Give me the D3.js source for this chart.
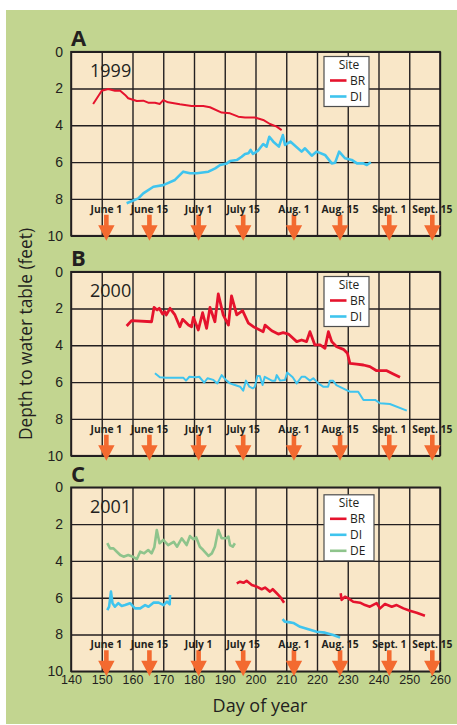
<!DOCTYPE html>
<html>
<head>
<meta charset="utf-8">
<script src="https://cdn.jsdelivr.net/npm/d3@7"></script>
<style>
  body { margin: 0; background: #fff; }
  svg { display: block; font-family: "Open Sans", "Noto Sans", sans-serif; }
</style>
</head>
<body>
<div id="chart"></div>
<script>
// panels and labels
const panelNames = ["A", "B", "C"];
const years = ["1999", "2000", "2001"];
const depthTicks = [0, 2, 4, 6, 8, 10];
const dayTicks = [140, 150, 160, 170, 180, 190, 200, 210, 220, 230, 240, 250, 260];
const monthLabels = ["June 1", "June 15", "July 1", "July 15", "Aug. 1", "Aug. 15", "Sept. 1", "Sept. 15"];
const monthDays = [151.5, 165.5, 181.5, 196, 212.5, 227.5, 243.5, 257.5];

// [day of year, depth in feet]
const br1999 = [[147.2,2.84],[150,2.12],[152.1,2.03],[154.3,2.12],[156,2.12],[157.6,2.35],[158.6,2.53],[161.4,2.68],[163.5,2.66],[165.1,2.77],[167.3,2.77],[168.9,2.84],[170,2.63],[171.6,2.75],[175.4,2.86],[179.2,2.95],[183,2.95],[185.2,3.02],[189,3.31],[191.7,3.35],[194.4,3.53],[196.6,3.57],[199.8,3.58],[202.5,3.71],[204.7,3.93],[206.9,4.07],[208.5,4.26]];
const di1999 = [[158.1,8.24],[161.9,7.97],[163.5,7.7],[166.8,7.34],[170,7.25],[173.8,6.97],[176.5,6.52],[178.7,6.61],[180.9,6.61],[184.7,6.52],[186.9,6.34],[188.5,6.16],[190.7,6.07],[191.7,5.94],[193.9,5.89],[195.5,5.71],[196.6,5.56],[197.7,5.52],[198.4,5.34],[199.2,5.56],[200.8,5.38],[202.5,5.02],[203.6,5.16],[204.5,4.62],[205.8,4.89],[207.6,5.16],[208.9,4.53],[209.6,5.07],[211.4,4.89],[215,5.43],[216.1,5.25],[218.3,5.65],[219.9,5.43],[222.6,5.61],[224.8,6.07],[225.9,6.03],[227.2,5.43],[229.1,5.79],[231.3,5.88],[233,6.07],[235.1,6.07],[236.2,6.16],[237.5,6.01]];
const br2000 = [[158.1,2.95],[159.7,2.66],[166.2,2.72],[167,1.94],[168,2.08],[168.7,1.99],[169.8,2.3],[170.5,2.17],[171,2.35],[172.2,1.99],[173.8,2.35],[175.4,2.99],[176.3,2.59],[178.2,2.9],[179.2,2.99],[179.8,2.48],[181.4,3.17],[182.8,2.23],[184.1,3.08],[185.2,1.94],[186.8,2.72],[187.9,1.21],[189.5,2.35],[191.2,2.9],[192.2,1.32],[193.9,2.35],[195.8,2.12],[197.7,2.8],[199.3,2.99],[202.5,3.26],[203.1,2.9],[205.3,3.21],[207.4,3.39],[209,3.31],[210.7,3.39],[213.4,3.8],[215,3.71],[216.6,3.8],[217.7,3.26],[219.3,3.98],[221,3.98],[222.6,4.16],[223.7,3.26],[224.8,3.8],[226.4,4.08],[228.6,4.22],[229.9,4.43],[230.7,4.98],[232.9,5.02],[235.1,5.07],[237.2,5.16],[239.4,5.38],[242.7,5.38],[244.8,5.56],[247,5.74]];
const di2000 = [[167.3,5.52],[168.9,5.74],[171,5.76],[176.5,5.76],[177.4,5.92],[178.5,5.71],[180.7,5.74],[181.7,5.71],[183.3,6.03],[184.4,5.79],[186.3,5.88],[187.6,6.07],[189,5.62],[190.6,5.92],[191.7,6.07],[193.3,6.16],[195,6.25],[196,6.47],[196.9,5.92],[198,6.25],[199.1,6.34],[199.8,6.25],[200.6,5.67],[201.4,5.67],[202.3,6.16],[203,5.71],[205.3,5.92],[206.4,5.92],[206.9,5.62],[208,5.92],[209.6,5.88],[210.3,5.48],[212.1,5.74],[213.4,6.07],[215,5.71],[216.1,5.71],[217.7,5.92],[218.8,5.79],[220.4,6.07],[222,6.25],[223.6,6.25],[224.2,5.92],[225.2,5.92],[226.3,6.16],[229.1,6.39],[230.7,6.52],[233.4,6.52],[235.1,6.97],[238.9,6.97],[240.5,7.15],[243.7,7.19],[249.2,7.55]];
const br2001a = [[193.9,5.22],[195,5.13],[196.1,5.19],[197.1,5.08],[198.8,5.31],[200.4,5.4],[202,5.54],[203.1,5.45],[204.7,5.67],[205.6,5.54],[206.9,5.76],[208,5.95],[209.3,6.27]];
const br2001b = [[227.7,5.76],[228,6.12],[229.1,5.95],[230.2,6.04],[231.8,6.22],[234,6.27],[235.6,6.4],[237.2,6.49],[239.4,6.3],[240.5,6.58],[242.1,6.34],[244.3,6.49],[245.9,6.4],[248.1,6.58],[250.2,6.71],[252.4,6.82],[255.1,6.98]];
const di2001a = [[151.8,6.67],[152.4,6.49],[153,5.67],[153.5,6.3],[154.3,6.49],[155.4,6.3],[156.5,6.45],[157.6,6.4],[159.2,6.3],[160.8,6.58],[162.5,6.58],[164.1,6.4],[165.2,6.49],[166.8,6.27],[168.5,6.27],[170.1,6.4],[171.2,6.21],[172.1,6.36],[172.2,5.85]];
const di2001b = [[208.8,7.17],[209.5,7.3],[211.2,7.34],[212.3,7.37],[214.5,7.58],[217.2,7.72],[219.9,7.85],[222.6,7.9],[225.3,8.03],[227.5,8.17]];
const de2001 = [[151.8,3.04],[152.7,3.32],[153.8,3.32],[154.9,3.5],[156,3.68],[157.1,3.77],[158.6,3.68],[160.1,3.77],[161.4,3.91],[162.5,3.5],[163.8,3.59],[165.1,3.41],[166.2,3.59],[167.1,3.26],[167.9,2.32],[168.8,3.04],[170,2.86],[171.6,3.14],[173.4,2.96],[174.5,3.23],[176,2.77],[177.6,3.14],[178.7,2.65],[179.8,2.83],[180.7,2.72],[181.9,3.23],[183,3.41],[184.7,3.73],[185.8,3.59],[186.8,3.23],[187.9,2.32],[189,2.77],[190.5,2.77],[191.2,2.68],[191.7,3.14],[192.6,3.23],[193.3,3.04]];

const colors = { BR: "#e5132d", DI: "#3fc4ee", DE: "#8ec48c" };

const panelSeries = [
  [{ site: "BR", data: [br1999], w: 2 }, { site: "DI", data: [di1999], w: 2.6 }],
  [{ site: "BR", data: [br2000], w: 2.8 }, { site: "DI", data: [di2000], w: 2 }],
  [{ site: "BR", data: [br2001a, br2001b], w: 2.6 }, { site: "DI", data: [di2001a, di2001b], w: 2.6 }, { site: "DE", data: [de2001], w: 2.6 }]
];

const W = 457, H = 725;
const panelTops = [51.7, 271.7, 487.3];
const plotH = 184;
const ink = "#231f20";

const svg = d3.select("#chart").append("svg")
  .attr("width", W).attr("height", H);

svg.append("rect")
  .attr("x", 6).attr("y", 10).attr("width", W - 6).attr("height", 714)
  .attr("fill", "#c2d590");

const x = d3.scaleLinear().domain([140, 260]).range([71, 440]);

panelNames.forEach((name, i) => {
  const top = panelTops[i];
  const y = d3.scaleLinear().domain([0, 10]).range([top, top + plotH]);
  const g = svg.append("g");

  g.append("rect")
    .attr("x", x(140)).attr("y", y(0))
    .attr("width", x(260) - x(140)).attr("height", plotH)
    .attr("fill", "#f9e7c8");

  // horizontal grid + depth labels
  const yAxis = g.append("g")
    .attr("transform", `translate(${x(140)},0)`)
    .call(d3.axisLeft(y).tickValues(depthTicks).tickSize(-(x(260) - x(140))).tickPadding(8));
  yAxis.select(".domain").remove();
  yAxis.selectAll("line").attr("stroke", ink).attr("stroke-width", 1.4);
  yAxis.selectAll("text").attr("fill", ink).attr("font-size", 14).attr("font-family", null);

  // vertical grid (+ day labels on the last panel)
  const xAxis = g.append("g")
    .attr("transform", `translate(0,${y(10)})`)
    .call(d3.axisBottom(x).tickValues(dayTicks).tickSize(-plotH).tickPadding(4)
      .tickFormat(i === 2 ? d3.format("d") : ""));
  xAxis.select(".domain").remove();
  xAxis.selectAll("line").attr("stroke", ink).attr("stroke-width", 1.4);
  xAxis.selectAll("text").attr("fill", ink).attr("font-size", 12.5).attr("font-family", null);

  g.append("rect")
    .attr("x", x(140)).attr("y", y(0))
    .attr("width", x(260) - x(140)).attr("height", plotH)
    .attr("fill", "none").attr("stroke", ink).attr("stroke-width", 1.6);

  // management arrows
  const b = y(10);
  g.selectAll(".arrow").data(monthDays).enter().append("path")
    .attr("class", "arrow")
    .attr("fill", "#f36a30")
    .attr("d", d => {
      const cx = x(d);
      return `M${cx - 2.3},${b - 21}L${cx + 2.3},${b - 21}L${cx + 2.3},${b - 10.5}L${cx + 8.2},${b - 10.5}` +
        `L${cx},${b + 5}L${cx - 8.2},${b - 10.5}L${cx - 2.3},${b - 10.5}Z`;
    });
  g.selectAll(".mlab").data(monthLabels).enter().append("text")
    .attr("class", "mlab")
    .attr("x", (d, j) => x(monthDays[j]))
    .attr("y", b - 23)
    .attr("text-anchor", "middle")
    .attr("font-size", 10.3).attr("font-weight", "bold")
    .attr("fill", ink)
    .text(d => d);

  // data lines
  const line = d3.line().x(d => x(d[0])).y(d => y(d[1]));
  panelSeries[i].forEach(s => {
    s.data.forEach(seg => {
      g.append("path").datum(seg)
        .attr("d", line)
        .attr("fill", "none")
        .attr("stroke", colors[s.site])
        .attr("stroke-width", s.w)
        .attr("stroke-linejoin", "round");
    });
  });

  // panel letter + year
  g.append("text")
    .attr("x", 71).attr("y", top - 5.5)
    .attr("font-size", 22).attr("font-weight", "bold").attr("fill", ink)
    .text(name);
  g.append("text")
    .attr("x", 90).attr("y", top + 25.6)
    .attr("font-size", 18).attr("fill", ink)
    .text(years[i]);

  // legend
  const sites = panelSeries[i].map(s => s.site);
  const lt = top + (i === 2 ? 7.5 : 4.8);
  const lw = i === 2 ? 50 : 45;
  const leg = g.append("g").attr("transform", `translate(324,${lt})`);
  leg.append("rect")
    .attr("width", lw).attr("height", 18 + 16 * sites.length)
    .attr("fill", "#fff").attr("stroke", "#4d4d4d").attr("stroke-width", 1.2);
  leg.append("text")
    .attr("x", 25).attr("y", 12)
    .attr("text-anchor", "middle")
    .attr("font-size", 12).attr("fill", ink)
    .text("Site");
  sites.forEach((s, j) => {
    const ry = 24 + 16 * j;
    leg.append("line")
      .attr("x1", 6).attr("x2", 22.5).attr("y1", ry).attr("y2", ry)
      .attr("stroke", colors[s]).attr("stroke-width", 2.6);
    leg.append("text")
      .attr("x", 26).attr("y", ry + 4.5)
      .attr("font-size", 12).attr("fill", ink)
      .text(s);
  });
});

// axis titles
svg.append("text")
  .attr("x", 260).attr("y", 711.5)
  .attr("text-anchor", "middle")
  .attr("font-size", 18).attr("fill", ink)
  .text("Day of year");

svg.append("text")
  .attr("transform", "translate(31.5,334) rotate(-90)")
  .attr("text-anchor", "middle")
  .attr("font-size", 17.3).attr("fill", ink)
  .text("Depth to water table (feet)");
</script>
</body>
</html>
